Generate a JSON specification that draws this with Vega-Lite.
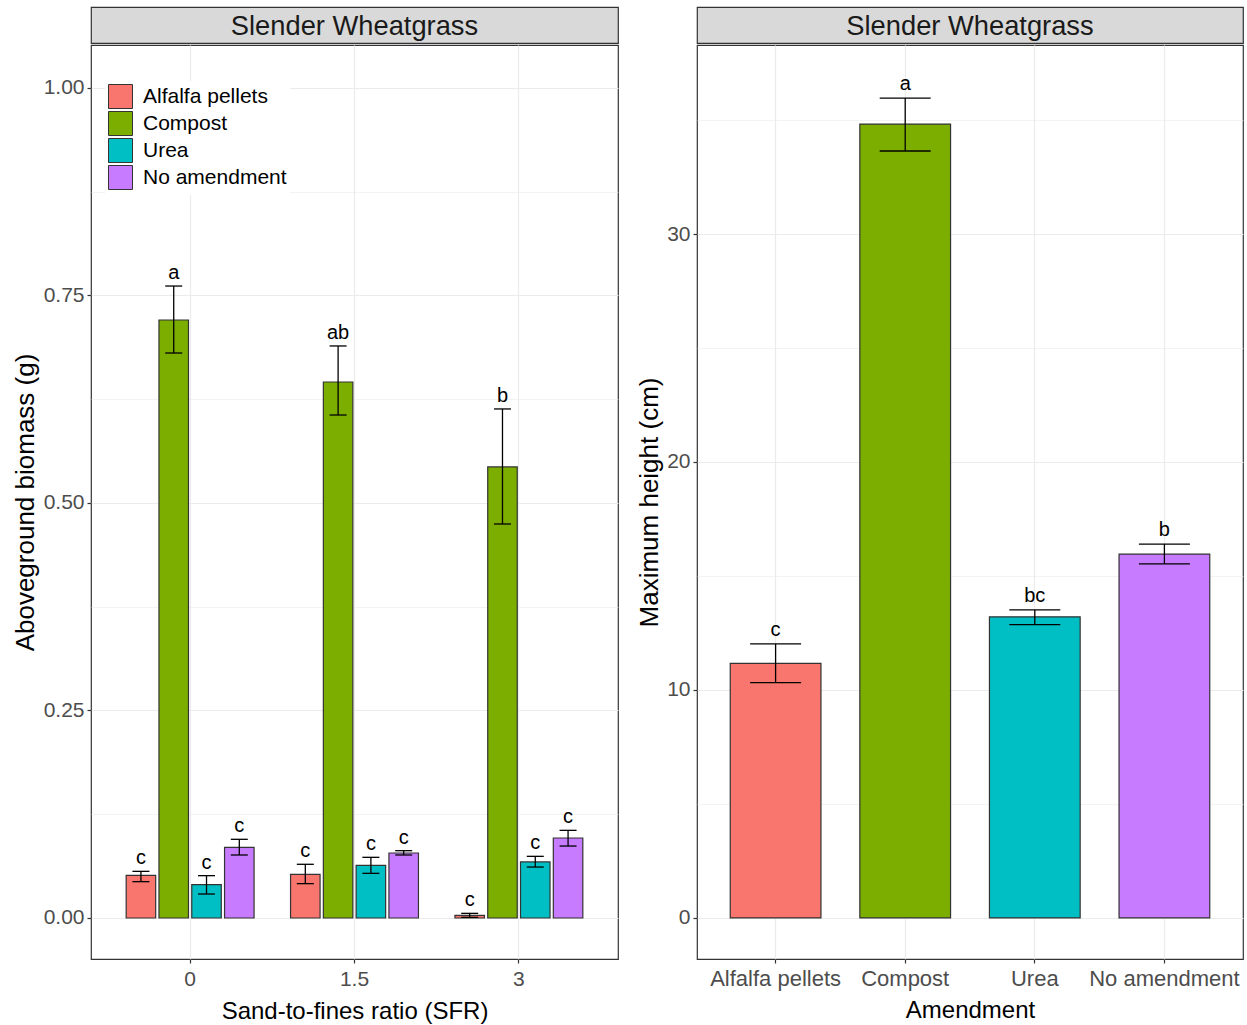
{
  "$schema": "https://vega.github.io/schema/vega-lite/v6.json",
  "padding": {"left": 11, "top": 6, "right": 2, "bottom": 2},
  "background": "white",
  "config": {
    "font": "Liberation Sans",
    "view": {"stroke": "#333333", "strokeWidth": 1.2},
    "axis": {
      "domain": false,
      "gridColor": "#EBEBEB",
      "gridWidth": 1.2,
      "tickColor": "#333333",
      "tickSize": 4,
      "tickWidth": 1.2,
      "labelColor": "#4D4D4D",
      "labelFontSize": 21,
      "labelPadding": 3,
      "titleColor": "#000000",
      "titleFontWeight": "normal",
      "titleFontSize": 24
    },
    "concat": {"spacing": 17}
  },
  "datasets": {
    "biomass": [
      {"sfr": "0", "amendment": "Alfalfa pellets", "mean": 0.0514, "lower": 0.0438, "upper": 0.0562, "letter": "c"},
      {"sfr": "0", "amendment": "Compost", "mean": 0.7205, "lower": 0.6807, "upper": 0.7614, "letter": "a"},
      {"sfr": "0", "amendment": "Urea", "mean": 0.0402, "lower": 0.0289, "upper": 0.0510, "letter": "c"},
      {"sfr": "0", "amendment": "No amendment", "mean": 0.0851, "lower": 0.0759, "upper": 0.0948, "letter": "c"},
      {"sfr": "1.5", "amendment": "Alfalfa pellets", "mean": 0.0526, "lower": 0.0414, "upper": 0.0647, "letter": "c"},
      {"sfr": "1.5", "amendment": "Compost", "mean": 0.6458, "lower": 0.6060, "upper": 0.6892, "letter": "ab"},
      {"sfr": "1.5", "amendment": "Urea", "mean": 0.0635, "lower": 0.0538, "upper": 0.0731, "letter": "c"},
      {"sfr": "1.5", "amendment": "No amendment", "mean": 0.0783, "lower": 0.0759, "upper": 0.0811, "letter": "c"},
      {"sfr": "3", "amendment": "Alfalfa pellets", "mean": 0.0032, "lower": 0.0008, "upper": 0.0056, "letter": "c"},
      {"sfr": "3", "amendment": "Compost", "mean": 0.5434, "lower": 0.4747, "upper": 0.6133, "letter": "b"},
      {"sfr": "3", "amendment": "Urea", "mean": 0.0675, "lower": 0.0614, "upper": 0.0743, "letter": "c"},
      {"sfr": "3", "amendment": "No amendment", "mean": 0.0964, "lower": 0.0867, "upper": 0.1056, "letter": "c"}
    ],
    "height": [
      {"amendment": "Alfalfa pellets", "mean": 11.17, "lower": 10.32, "upper": 12.02, "letter": "c"},
      {"amendment": "Compost", "mean": 34.82, "lower": 33.64, "upper": 35.96, "letter": "a"},
      {"amendment": "Urea", "mean": 13.21, "lower": 12.87, "upper": 13.51, "letter": "bc"},
      {"amendment": "No amendment", "mean": 15.96, "lower": 15.53, "upper": 16.40, "letter": "b"}
    ],
    "strip": [{"panel": "Slender Wheatgrass"}]
  },
  "hconcat": [
    {
      "spacing": 0,
      "vconcat": [
        {
          "data": {"name": "strip"},
          "width": 527,
          "height": 36,
          "view": {"fill": "#D9D9D9", "stroke": "#333333", "strokeWidth": 1.2},
          "mark": {"type": "text", "fontSize": 27.3, "color": "#1A1A1A", "baseline": "middle", "align": "center", "dy": 2},
          "encoding": {"text": {"field": "panel"}}
        },
        {
          "data": {"name": "biomass"},
          "width": 527,
          "height": 914,
          "encoding": {
            "x": {
              "field": "sfr", "type": "nominal", "sort": ["0", "1.5", "3"],
              "scale": {"paddingInner": 0.222, "paddingOuter": 0.214},
              "axis": {"title": "Sand-to-fines ratio (SFR)", "labelAngle": 0, "bandPosition": 0.5, "grid": true, "labelPadding": 5, "titlePadding": 10}
            },
            "xOffset": {
              "field": "amendment", "type": "nominal",
              "sort": ["Alfalfa pellets", "Compost", "Urea", "No amendment"],
              "scale": {"paddingInner": 0.1, "paddingOuter": 0}
            }
          },
          "layer": [
            {
              "mark": {"type": "bar", "stroke": "#333333", "strokeWidth": 1.2},
              "encoding": {
                "y": {
                  "field": "mean", "type": "quantitative", "title": "Aboveground biomass (g)",
                  "scale": {"domain": [-0.0494, 1.0518], "nice": false, "zero": false},
                  "axis": {
                    "values": [0, 0.125, 0.25, 0.375, 0.5, 0.625, 0.75, 0.875, 1],
                    "labelExpr": "(datum.value*4)%1 == 0 ? format(datum.value, '.2f') : ''",
                    "tickOpacity": {"condition": {"test": "(datum.value*4)%1 != 0", "value": 0}, "value": 1},
                    "gridWidth": {"condition": {"test": "(datum.value*4)%1 != 0", "value": 0.6}, "value": 1.2},
                    "titleFontSize": 26,
                    "titlePadding": 5
                  }
                },
                "color": {
                  "field": "amendment", "type": "nominal",
                  "scale": {"domain": ["Alfalfa pellets", "Compost", "Urea", "No amendment"], "range": ["#F8766D", "#7CAE00", "#00BFC4", "#C77CFF"]},
                  "legend": {
                    "orient": "none", "legendX": 14, "legendY": 74, "title": null,
                    "symbolType": "square", "symbolSize": 576, "symbolStrokeColor": "#333333", "symbolStrokeWidth": 1,
                    "labelFontSize": 21, "labelColor": "#000000", "labelOffset": 10, "rowPadding": -3,
                    "fillColor": "white", "padding": 3, "symbolOpacity": 1
                  }
                }
              }
            },
            {
              "mark": {"type": "rule", "color": "black", "strokeWidth": 1.3},
              "encoding": {
                "y": {"field": "lower", "type": "quantitative", "title": "Aboveground biomass (g)"},
                "y2": {"field": "upper"}
              }
            },
            {
              "mark": {"type": "tick", "color": "black", "thickness": 1.3, "size": 17, "opacity": 1},
              "encoding": {"y": {"field": "lower", "type": "quantitative", "title": "Aboveground biomass (g)"}}
            },
            {
              "mark": {"type": "tick", "color": "black", "thickness": 1.3, "size": 17, "opacity": 1},
              "encoding": {"y": {"field": "upper", "type": "quantitative", "title": "Aboveground biomass (g)"}}
            },
            {
              "mark": {"type": "text", "baseline": "alphabetic", "dy": -7, "fontSize": 20, "color": "black"},
              "encoding": {
                "y": {"field": "upper", "type": "quantitative", "title": "Aboveground biomass (g)"},
                "text": {"field": "letter"}
              }
            }
          ]
        }
      ]
    },
    {
      "spacing": 0,
      "vconcat": [
        {
          "data": {"name": "strip"},
          "width": 546,
          "height": 36,
          "view": {"fill": "#D9D9D9", "stroke": "#333333", "strokeWidth": 1.2},
          "mark": {"type": "text", "fontSize": 27.3, "color": "#1A1A1A", "baseline": "middle", "align": "center", "dy": 2},
          "encoding": {"text": {"field": "panel"}}
        },
        {
          "data": {"name": "height"},
          "width": 546,
          "height": 914,
          "encoding": {
            "x": {
              "field": "amendment", "type": "nominal",
              "sort": ["Alfalfa pellets", "Compost", "Urea", "No amendment"],
              "scale": {"paddingInner": 0.3, "paddingOuter": 0.2565},
              "axis": {"title": "Amendment", "labelAngle": 0, "bandPosition": 0.5, "grid": true, "labelFontSize": 22, "labelPadding": 5, "titlePadding": 9}
            }
          },
          "layer": [
            {
              "mark": {"type": "bar", "stroke": "#333333", "strokeWidth": 1.2},
              "encoding": {
                "y": {
                  "field": "mean", "type": "quantitative", "title": "Maximum height (cm)",
                  "scale": {"domain": [-1.8, 38.29], "nice": false, "zero": false},
                  "axis": {
                    "values": [0, 5, 10, 15, 20, 25, 30, 35],
                    "labelExpr": "datum.value % 10 == 0 ? format(datum.value, 'd') : ''",
                    "tickOpacity": {"condition": {"test": "datum.value % 10 != 0", "value": 0}, "value": 1},
                    "gridWidth": {"condition": {"test": "datum.value % 10 != 0", "value": 0.6}, "value": 1.2},
                    "titleFontSize": 26,
                    "titlePadding": 4
                  }
                },
                "color": {
                  "field": "amendment", "type": "nominal",
                  "scale": {"domain": ["Alfalfa pellets", "Compost", "Urea", "No amendment"], "range": ["#F8766D", "#7CAE00", "#00BFC4", "#C77CFF"]},
                  "legend": null
                }
              }
            },
            {
              "mark": {"type": "rule", "color": "black", "strokeWidth": 1.3},
              "encoding": {
                "y": {"field": "lower", "type": "quantitative", "title": "Maximum height (cm)"},
                "y2": {"field": "upper"}
              }
            },
            {
              "mark": {"type": "tick", "color": "black", "thickness": 1.3, "size": 51, "opacity": 1},
              "encoding": {"y": {"field": "lower", "type": "quantitative", "title": "Maximum height (cm)"}}
            },
            {
              "mark": {"type": "tick", "color": "black", "thickness": 1.3, "size": 51, "opacity": 1},
              "encoding": {"y": {"field": "upper", "type": "quantitative", "title": "Maximum height (cm)"}}
            },
            {
              "mark": {"type": "text", "baseline": "alphabetic", "dy": -8, "fontSize": 20, "color": "black"},
              "encoding": {
                "y": {"field": "upper", "type": "quantitative", "title": "Maximum height (cm)"},
                "text": {"field": "letter"}
              }
            }
          ]
        }
      ]
    }
  ],
  "resolve": {"scale": {"color": "independent"}}
}
